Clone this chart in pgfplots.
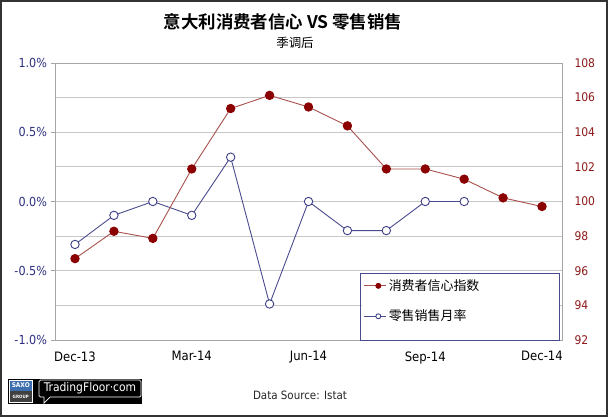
\documentclass[border=0pt]{standalone}
\usepackage{pgfplots}
\pgfplotsset{compat=1.18}
\usepackage{fontspec}
\setmainfont{DejaVu Sans Condensed}
\newfontfamily\cjk{Noto Sans CJK SC}
\newfontfamily\cjkb{Noto Sans CJK SC Bold}
\definecolor{bluel}{HTML}{4A4C8E}
\definecolor{bluem}{HTML}{3C3E86}
\definecolor{redl}{HTML}{A8524E}
\definecolor{redm}{HTML}{8B0000}
\definecolor{lblue}{HTML}{2E3181}
\definecolor{lred}{HTML}{8E1B1B}
\definecolor{gridc}{HTML}{C8C8C8}
\definecolor{axc}{HTML}{A6A6A6}
\definecolor{saxo}{HTML}{3D6FB0}
\pgfplotstableread{
x y
0 96.70
1 98.28
2 97.87
3 101.88
4 105.37
5 106.13
6 105.46
7 104.37
8 101.88
9 101.88
10 101.29
11 100.21
12 99.71
}\conf
\pgfplotstableread{
x y
0 -0.31
1 -0.10
2 0.00
3 -0.10
4 0.32
5 -0.74
6 0.00
7 -0.21
8 -0.21
9 0.00
10 0.00
}\retail
\begin{document}
\begin{tikzpicture}[x=1bp,y=1bp]
\fill[white] (0,0) rectangle (608,417);
\begin{axis}[
  at={(55bp,77bp)}, anchor=south west,
  scale only axis, width=507bp, height=277bp,
  xmin=-0.514, xmax=12.514,
  ymin=-1, ymax=1,
  xtick={0,3,6,9,12},
  xticklabels={Dec-13,Mar-14,Jun-14,Sep-14,Dec-14},
  ytick={-1,-0.5,0,0.5,1},
  minor ytick={-0.75,-0.25,0.25,0.75},
  /pgf/number format/assume math mode=true,
  yticklabel={\pgfmathprintnumber[fixed,fixed zerofill,precision=1]{\tick}\%},
  ymajorgrids, yminorgrids,
  major grid style={gridc, line width=0.8bp},
  minor grid style={gridc, line width=0.8bp},
  axis line style={axc, line width=0.8bp},
  ytick pos=left, xtick pos=bottom,
  tick align=outside,
  major tick length=4bp, minor tick length=0bp,
  major x tick style={draw=none},
  every tick/.style={axc, line width=0.8bp},
  yticklabel style={lblue, font=\fontsize{12.5}{13}\selectfont, xshift=-0.5bp},
  xticklabel style={black, font=\fontsize{13}{14}\selectfont, yshift=-4bp},
]
\addplot[bluel, line width=0.9bp, mark=*, mark size=4.2bp,
  mark options={draw=bluem, fill=white, line width=0.9bp}] table[x=x,y=y] {\retail};
\end{axis}
\begin{axis}[
  at={(55bp,77bp)}, anchor=south west,
  scale only axis, width=507bp, height=277bp,
  xmin=-0.514, xmax=12.514,
  ymin=92, ymax=108,
  axis x line=none, axis y line*=right,
  ytick={92,94,...,108},
  /pgf/number format/assume math mode=true,
  axis line style={axc, line width=0.8bp},
  major tick length=0bp,
  yticklabel={\hspace*{9bp}\pgfmathprintnumber{\tick}},
  yticklabel style={lred, font=\fontsize{12}{13}\selectfont, anchor=west},
  legend style={at={(0.994,0.233)}, anchor=north east, draw=none,
    fill=white, font=\cjk\fontsize{13}{13}\selectfont, row sep=14bp,
    inner xsep=2bp, inner ysep=2bp},
  legend cell align=left,
  legend image code/.code={%
    \draw[mark repeat=2,mark phase=2,#1, mark size=2.5bp]
      plot coordinates {(0bp,0bp) (14bp,0bp) (22bp,0bp)};},
]
\addplot[redl, line width=0.9bp, mark=*, mark size=4.2bp,
  mark options={draw=redm, fill=redm}] table[x=x,y=y] {\conf};
\addlegendentry{\makebox[166bp][l]{消费者信心指数}}
\addlegendimage{bluel, line width=0.9bp, mark=*, mark options={draw=bluem, fill=white, line width=0.9bp}}
\addlegendentry{\makebox[166bp][l]{零售销售月率}}
\end{axis}
% legend frame
\draw[bluel, line width=0.8bp] (360,77) rectangle (559,144);
% titles
\node[font=\cjkb\fontsize{17.5}{18}\selectfont] at (283,395) {意大利消费者信心\ VS\ 零售销售};
\node[font=\cjk\fontsize{12.5}{13}\selectfont] at (295,374) {季调后};
\node[font=\fontsize{11.5}{12}\selectfont, text=black!85] at (300,22) {Data Source: Istat};
% logo
\fill[black] (8,13) rectangle (142,38);
\fill[saxo] (9.5,26) rectangle (32,37);
\fill[black!75] (9.5,14.5) rectangle (32,26);
\draw[white, line width=0.6bp] (9.5,14.5) rectangle (32,37);
\node[white, font=\bfseries\fontsize{6.5}{7}\selectfont, inner sep=0] at (20.75,31.5) {SAXO};
\node[white, font=\bfseries\fontsize{4.5}{5}\selectfont, inner sep=0] at (20.75,20) {GROUP};
\draw[white, line width=0.7bp, rounded corners=1.5bp] (44,20) -- (39,20) -- (39,37) -- (141,37) -- (141,20) -- (50,20);
\draw[white, line width=0.7bp] (44,20) -- (44,14) -- (50,20);
\node[white, font=\fontsize{12}{13}\selectfont, inner sep=0] at (90,29) {TradingFloor·com};
% frame
\draw[black!80, line width=2bp] (1,1) rectangle (607,416);
\pgfresetboundingbox
\useasboundingbox (0,0) rectangle (608,417);
\end{tikzpicture}
\end{document}
